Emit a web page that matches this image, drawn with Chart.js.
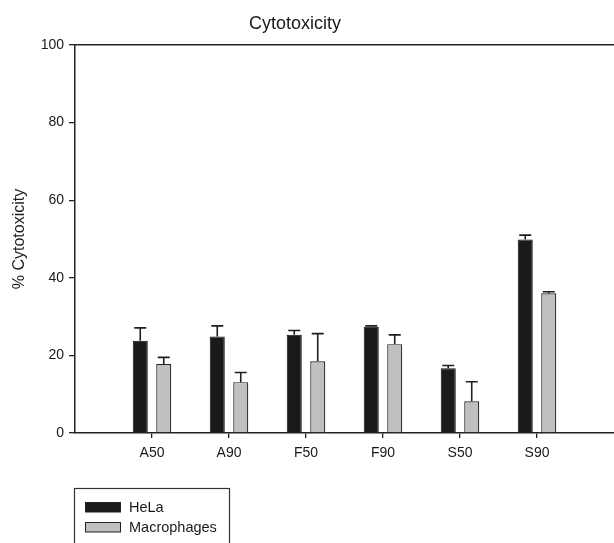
<!DOCTYPE html>
<html>
<head>
<meta charset="utf-8">
<script src="https://cdn.jsdelivr.net/npm/chart.js@4"></script>
<style>
html,body{margin:0;padding:0;background:#fff;}
#wrap{position:relative;width:614px;height:543px;}
</style>
</head>
<body>
<div id="wrap"><canvas id="c" width="614" height="543"></canvas></div>
<script>
const categories = ['A50', 'A90', 'F50', 'F90', 'S50', 'S90'];
const helaValues = [23.8, 24.9, 25.3, 27.4, 16.7, 49.9];
const helaErrors = [3.3, 2.7, 1.1, 0.2, 0.7, 1.1];
const macroValues = [17.8, 13.1, 18.5, 22.9, 8.2, 36.0];
const macroErrors = [1.7, 2.5, 7.1, 2.4, 5.0, 0.4];
const yTicks = [0, 20, 40, 60, 80, 100];
const seriesNames = ['HeLa', 'Macrophages'];
const chartTitle = 'Cytotoxicity';
const yTitle = '% Cytotoxicity';

// padded category axis: one empty slot on each side
const labels = [''].concat(categories, ['']);
const pad = arr => [null].concat(arr, [null]);
const errs = [pad(helaErrors), pad(macroErrors)];

const FONT = '"Liberation Sans", Arial, sans-serif';

const errorBarPlugin = {
  id: 'errorBars',
  afterDatasetsDraw(chart) {
    const ctx = chart.ctx;
    const y = chart.scales.y;
    ctx.save();
    ctx.strokeStyle = '#1e1e1e';
    ctx.lineWidth = 1.6;
    chart.data.datasets.forEach((ds, di) => {
      const meta = chart.getDatasetMeta(di);
      meta.data.forEach((bar, i) => {
        const v = ds.data[i];
        const e = errs[di][i];
        if (v == null || e == null) return;
        const yTop = y.getPixelForValue(v + e);
        const yBar = y.getPixelForValue(v);
        ctx.beginPath();
        ctx.moveTo(bar.x, yBar);
        ctx.lineTo(bar.x, yTop);
        ctx.moveTo(bar.x - 6, yTop);
        ctx.lineTo(bar.x + 6, yTop);
        ctx.stroke();
      });
    });
    ctx.restore();
  }
};

const decorPlugin = {
  id: 'decor',
  afterDraw(chart) {
    const ctx = chart.ctx;
    ctx.save();
    // title
    ctx.fillStyle = '#1a1a1a';
    ctx.font = '18px ' + FONT;
    ctx.textAlign = 'center';
    ctx.textBaseline = 'middle';
    ctx.fillText(chartTitle, 295, 24);
    // legend box
    ctx.strokeStyle = '#333';
    ctx.lineWidth = 1.2;
    ctx.strokeRect(74.5, 488.5, 155, 70);
    const fills = ['#1a1a1a', '#c0c0c0'];
    const ys = [507, 527];
    ctx.font = '14.5px ' + FONT;
    ctx.textAlign = 'left';
    for (let k = 0; k < 2; k++) {
      ctx.fillStyle = fills[k];
      ctx.fillRect(85, ys[k] - 5, 36, 10);
      ctx.strokeStyle = '#222';
      ctx.lineWidth = 1;
      ctx.strokeRect(85.5, ys[k] - 4.5, 35, 9.5);
      ctx.fillStyle = '#1a1a1a';
      ctx.fillText(seriesNames[k], 129, ys[k] + 1);
    }
    ctx.restore();
  }
};

new Chart(document.getElementById('c'), {
  type: 'bar',
  data: {
    labels: labels,
    datasets: [
      {
        label: seriesNames[0],
        data: pad(helaValues),
        backgroundColor: '#1a1a1a',
        borderColor: '#111',
        borderWidth: 1,
        categoryPercentage: 0.61,
        barPercentage: 0.64
      },
      {
        label: seriesNames[1],
        data: pad(macroValues),
        backgroundColor: '#c0c0c0',
        borderColor: '#222',
        borderWidth: 1.2,
        categoryPercentage: 0.61,
        barPercentage: 0.64
      }
    ]
  },
  options: {
    responsive: false,
    animation: false,
    layout: { padding: { left: 0, right: -6, top: 45, bottom: 80 } },
    plugins: {
      legend: { display: false },
      title: { display: false },
      tooltip: { enabled: false }
    },
    scales: {
      x: {
        type: 'category',
        position: 'bottom',
        offset: false,
        afterFit(s) { s.height = 30; s.paddingRight = 0; s.paddingLeft = 0; },
        border: { display: true, color: '#222', width: 1.5 },
        grid: {
          display: true,
          offset: false,
          drawOnChartArea: false,
          drawTicks: true,
          tickLength: 5,
          color: ctx => (ctx.tick && ctx.tick.label === '') ? 'rgba(0,0,0,0)' : '#222',
          lineWidth: 1.3
        },
        ticks: {
          autoSkip: false,
          maxRotation: 0,
          padding: 7,
          color: '#1a1a1a',
          font: { family: FONT, size: 14 }
        }
      },
      xTop: {
        type: 'category',
        position: 'top',
        offset: false,
        afterFit(s) { s.height = 0; s.paddingRight = 0; s.paddingLeft = 0; },
        border: { display: true, color: '#222', width: 1.5 },
        grid: { display: false, offset: false },
        ticks: { display: false }
      },
      y: {
        min: 0,
        max: 100,
        afterFit(s) { s.width = 75; },
        afterBuildTicks(s) { s.ticks = yTicks.map(v => ({ value: v })); },
        border: { display: true, color: '#222', width: 1.5 },
        grid: {
          display: true,
          drawOnChartArea: false,
          drawTicks: true,
          tickLength: 6,
          color: '#222',
          lineWidth: 1.3
        },
        ticks: {
          padding: 5,
          color: '#1a1a1a',
          font: { family: FONT, size: 14 }
        },
        title: {
          display: true,
          text: yTitle,
          color: '#1a1a1a',
          font: { family: FONT, size: 16 },
          padding: { top: 10, bottom: 0 }
        }
      }
    }
  },
  plugins: [errorBarPlugin, decorPlugin]
});
</script>
</body>
</html>
